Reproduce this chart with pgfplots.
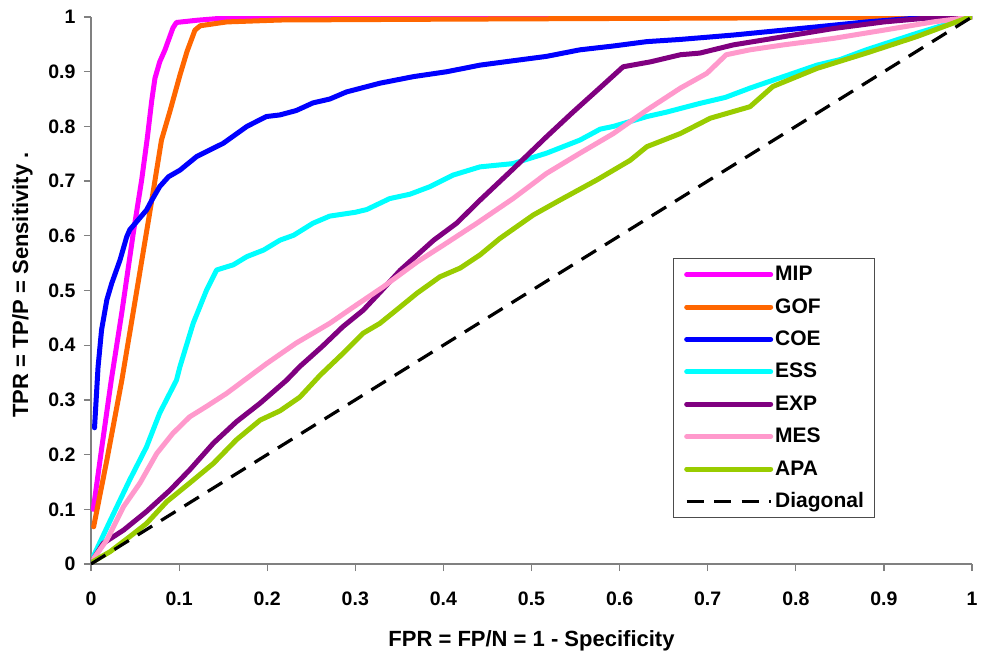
\documentclass[border=0pt]{standalone}
\usepackage{fontspec}
\setmainfont{Liberation Sans}
\usepackage{pgfplots}
\pgfplotsset{compat=1.18}
\definecolor{cMIP}{HTML}{FF00FF}
\definecolor{cGOF}{HTML}{FF6600}
\definecolor{cCOE}{HTML}{0000FF}
\definecolor{cESS}{HTML}{00FFFF}
\definecolor{cEXP}{HTML}{800080}
\definecolor{cMES}{HTML}{FF99CC}
\definecolor{cAPA}{HTML}{99CC00}
\definecolor{axgray}{HTML}{808080}
\begin{document}
\begin{tikzpicture}
\begin{axis}[
  scale only axis, width=440.5pt, height=273.5pt,
  xmin=0, xmax=1, ymin=0, ymax=1,
  axis x line*=bottom, axis y line*=left,
  axis line style={draw=axgray, line width=0.6pt},
  xtick={0,0.1,0.2,0.3,0.4,0.5,0.6,0.7,0.8,0.9,1},
  ytick={0,0.1,0.2,0.3,0.4,0.5,0.6,0.7,0.8,0.9,1},
  tick align=outside, major tick length=3.5pt,
  tick style={draw=axgray, line width=0.6pt},
  /pgf/number format/assume math mode=true,
  ticklabel style={font=\fontsize{9.75}{11}\selectfont\bfseries},
  xticklabel style={yshift=-7pt},
  yticklabel style={xshift=-0.75pt},
  xlabel={FPR = FP/N = 1 - Specificity},
  ylabel={TPR = TP/P = Sensitivity .},
  label style={font=\fontsize{11}{13}\selectfont\bfseries},
  xlabel style={at={(axis description cs:0.5,-0.15)}, anchor=base},
  ylabel style={at={(axis description cs:-0.0715,0.51)}, anchor=base},
  legend style={at={(0.6606,0.5594)}, anchor=north west, draw=black!70, line width=0.6pt, fill=white,
    inner xsep=5.3pt, inner ysep=2.5pt, row sep=5.2pt, column sep=1pt,
    font=\fontsize{10.5}{12}\selectfont\bfseries,
    nodes={inner sep=0pt, text height=8.5pt, text depth=2.5pt, anchor=west}},
  legend cell align=left,
  legend image code/.code={\draw[#1] (0pt,0pt) -- (42pt,0pt);},
  every axis plot/.append style={line width=2.5pt, line join=round, line cap=round},
]
\coordinate (sw) at (rel axis cs:0,0);
\coordinate (ne) at (rel axis cs:1,1);
% MIP
\addplot[cMIP] coordinates {(0.0026,0.10) (0.012,0.21) (0.023,0.336) (0.035,0.46) (0.048,0.605) (0.0575,0.702) (0.064,0.78) (0.069,0.848) (0.0726,0.888) (0.078,0.918) (0.084,0.94) (0.093,0.98) (0.097,0.99) (0.12,0.994) (0.15,0.998) (0.2,0.999) (0.3,1) (1,1)};
\addlegendentry{MIP}
% GOF
\addplot[cGOF] coordinates {(0.003,0.068) (0.018,0.19) (0.035,0.336) (0.052,0.50) (0.069,0.665) (0.080,0.775) (0.090,0.83) (0.101,0.894) (0.109,0.937) (0.118,0.976) (0.124,0.984) (0.154,0.991) (0.215,0.9945) (0.4,0.996) (0.7,0.998) (0.9,0.999) (1,1)};
\addlegendentry{GOF}
% COE
\addplot[cCOE] coordinates {(0.004,0.249) (0.008,0.36) (0.012,0.428) (0.018,0.483) (0.0235,0.513) (0.033,0.556) (0.0405,0.598) (0.044,0.611) (0.053,0.628) (0.063,0.647) (0.069,0.665) (0.078,0.69) (0.088,0.708) (0.101,0.72) (0.12,0.745) (0.15,0.769) (0.177,0.80) (0.199,0.818) (0.2145,0.821) (0.233,0.829) (0.252,0.843) (0.271,0.850) (0.29,0.863) (0.328,0.879) (0.366,0.891) (0.404,0.900) (0.4415,0.912) (0.479,0.920) (0.517,0.928) (0.555,0.940) (0.593,0.947) (0.631,0.955) (0.669,0.959) (0.729,0.967) (0.805,0.979) (0.88,0.991) (0.937,0.998) (1,1)};
\addlegendentry{COE}
% ESS
\addplot[cESS] coordinates {(0.003,0.015) (0.022,0.08) (0.044,0.154) (0.063,0.214) (0.078,0.276) (0.097,0.336) (0.101,0.361) (0.116,0.44) (0.131,0.50) (0.1426,0.5375) (0.1616,0.547) (0.177,0.562) (0.196,0.574) (0.2145,0.592) (0.23,0.601) (0.252,0.623) (0.271,0.636) (0.30,0.643) (0.313,0.648) (0.339,0.668) (0.362,0.676) (0.385,0.69) (0.411,0.711) (0.4415,0.726) (0.479,0.732) (0.517,0.751) (0.555,0.775) (0.578,0.795) (0.593,0.80) (0.631,0.818) (0.653,0.826) (0.691,0.842) (0.72,0.853) (0.748,0.87) (0.786,0.891) (0.824,0.912) (0.85,0.922) (0.88,0.94) (0.937,0.97) (0.994,0.998) (1,1)};
\addlegendentry{ESS}
% EXP
\addplot[cEXP] coordinates {(0.003,0.01) (0.014,0.038) (0.037,0.062) (0.063,0.096) (0.0897,0.135) (0.112,0.172) (0.139,0.221) (0.165,0.26) (0.192,0.294) (0.222,0.336) (0.237,0.361) (0.262,0.397) (0.286,0.434) (0.309,0.464) (0.330,0.500) (0.351,0.537) (0.389,0.592) (0.415,0.623) (0.4415,0.665) (0.479,0.722) (0.517,0.781) (0.547,0.826) (0.578,0.871) (0.604,0.909) (0.635,0.918) (0.669,0.931) (0.691,0.934) (0.729,0.949) (0.786,0.964) (0.843,0.979) (0.9,0.991) (0.956,0.999) (1,1)};
\addlegendentry{EXP}
% MES
\addplot[cMES] coordinates {(0.003,0.01) (0.018,0.044) (0.037,0.105) (0.0556,0.148) (0.0746,0.202) (0.093,0.239) (0.112,0.269) (0.131,0.288) (0.154,0.312) (0.169,0.330) (0.199,0.366) (0.233,0.404) (0.271,0.440) (0.298,0.47) (0.332,0.507) (0.37,0.552) (0.4,0.583) (0.438,0.623) (0.479,0.668) (0.517,0.714) (0.555,0.751) (0.593,0.787) (0.631,0.83) (0.669,0.87) (0.699,0.897) (0.721,0.931) (0.748,0.94) (0.786,0.949) (0.843,0.961) (0.9,0.976) (0.956,0.991) (1,1)};
\addlegendentry{MES}
% APA
\addplot[cAPA] coordinates {(0.003,0.005) (0.0216,0.0225) (0.044,0.05) (0.063,0.074) (0.086,0.114) (0.112,0.148) (0.139,0.184) (0.165,0.227) (0.192,0.263) (0.2145,0.280) (0.237,0.305) (0.26,0.345) (0.286,0.385) (0.309,0.422) (0.328,0.44) (0.351,0.470) (0.37,0.495) (0.396,0.525) (0.419,0.541) (0.4415,0.565) (0.464,0.595) (0.502,0.638) (0.532,0.665) (0.574,0.702) (0.612,0.738) (0.631,0.763) (0.669,0.787) (0.703,0.815) (0.748,0.836) (0.774,0.873) (0.824,0.906) (0.88,0.934) (0.937,0.964) (0.994,0.998) (1,1)};
\addlegendentry{APA}
% Diagonal
\addplot[black, line width=1.6pt, line cap=butt, dash pattern=on 8.5pt off 5.25pt] coordinates {(0,0) (1,1)};
\addlegendentry{Diagonal}
\end{axis}
\pgfresetboundingbox
\path ([xshift=-45.5pt,yshift=-45pt]sw) rectangle ([xshift=4.5pt,yshift=8.5pt]ne);
\end{tikzpicture}
\end{document}
